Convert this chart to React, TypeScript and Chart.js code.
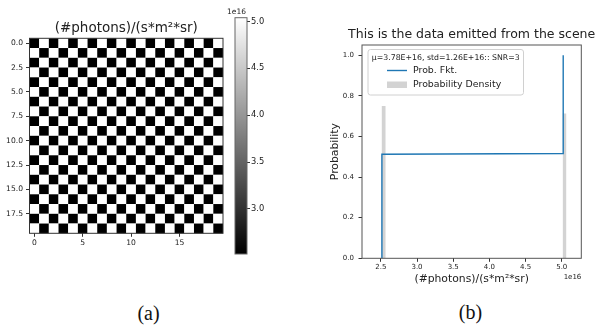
import React, { useEffect, useRef } from "react";
import { Chart, registerables } from "chart.js";

Chart.register(...registerables);

const FONT = "'DejaVu Sans', sans-serif";

// Radiance levels of the scene, in units of 1e16 (#photons)/(s*m²*sr)
const DARK_LEVEL = 2.52;
const BRIGHT_LEVEL = 5.04;

// Scene pixels: '0' = dark pixel, '1' = bright pixel (20 x 20)
const SCENE_ROWS = [
  "01010101010101010101",
  "10101010101010101010",
  "01010101010101010101",
  "10101010101010101010",
  "01010101010101010101",
  "10101010101010101010",
  "01010101010101010101",
  "10101010101010101010",
  "01010101010101010101",
  "10101010101010101010",
  "01010101010101010101",
  "10101010101010101010",
  "01010101010101010101",
  "10101010101010101010",
  "01010101010101010101",
  "10101010101010101010",
  "01010101010101010101",
  "10101010101010101010",
  "01010101010101010101",
  "10101010101010101010",
];

const IMG_X_TICKS = [0, 5, 10, 15];
const IMG_Y_TICKS = [0, 2.5, 5, 7.5, 10, 12.5, 15, 17.5];
const CBAR_TICKS = [3.0, 3.5, 4.0, 4.5, 5.0];

// Histogram of the emitted data (bin edges in 1e16 units, density)
const HIST_BIN_START = [2.51, 5.015];
const HIST_BIN_END = [2.565, 5.065];
const HIST_DENSITY = [0.75, 0.713];

// Probability function (step curve)
const PROB_X = [2.515, 2.515, 5.02, 5.02];
const PROB_Y = [0, 0.512, 0.516, 1.0];

const DIST_X_TICKS = [2.5, 3.0, 3.5, 4.0, 4.5, 5.0];
const DIST_Y_TICKS = [0, 0.2, 0.4, 0.6, 0.8, 1.0];

const UNIT_LABEL = "(#photons)/(s*m²*sr)";
const DIST_TITLE = "This is the data emitted from the scene";

const grayFor = (v: number) => {
  const t = Math.max(0, Math.min(1, (v - DARK_LEVEL) / (BRIGHT_LEVEL - DARK_LEVEL)));
  const c = Math.round(255 * t);
  return `rgb(${c},${c},${c})`;
};

// statistics shown in the legend title
const scenePixels = SCENE_ROWS.flatMap((row) =>
  row.split("").map((ch) => (ch === "1" ? BRIGHT_LEVEL : DARK_LEVEL) * 1e16)
);
const mean = scenePixels.reduce((a, b) => a + b, 0) / scenePixels.length;
const std = Math.sqrt(
  scenePixels.reduce((a, b) => a + (b - mean) ** 2, 0) / scenePixels.length
);
const fmtE = (v: number) => {
  const [m, e] = v.toExponential(2).split("e");
  return `${m}E${e.startsWith("-") ? e : "+" + e.replace("+", "")}`;
};
const LEGEND_TITLE = `μ=${fmtE(mean)}, std=${fmtE(std)}:: SNR=${Math.round(mean / std)}`;

const TICK_COLOR = "#222";
const FRAME_COLOR = "#333";

const fixedTicks = (values: number[]) => (scale: any) => {
  scale.ticks = values.map((value) => ({ value }));
};

const framePlugin = (color: string) => ({
  id: "frame",
  afterDatasetsDraw(chart: any) {
    const { ctx, chartArea: a } = chart;
    ctx.save();
    ctx.strokeStyle = color;
    ctx.lineWidth = 1;
    ctx.strokeRect(a.left, a.top, a.right - a.left, a.bottom - a.top);
    ctx.restore();
  },
});

type TextItem = {
  text: string;
  x: (a: any) => number;
  y: (a: any) => number;
  size: number;
  align?: CanvasTextAlign;
  rotate?: boolean;
};

const textPlugin = (items: TextItem[]) => ({
  id: "texts",
  afterDraw(chart: any) {
    const { ctx, chartArea } = chart;
    ctx.save();
    ctx.fillStyle = TICK_COLOR;
    ctx.textBaseline = "middle";
    for (const it of items) {
      ctx.font = `${it.size}px ${FONT}`;
      ctx.textAlign = it.align ?? "center";
      const x = it.x(chartArea);
      const y = it.y(chartArea);
      if (it.rotate) {
        ctx.save();
        ctx.translate(x, y);
        ctx.rotate(-Math.PI / 2);
        ctx.fillText(it.text, 0, 0);
        ctx.restore();
      } else {
        ctx.fillText(it.text, x, y);
      }
    }
    ctx.restore();
  },
});

const heatCellsPlugin = {
  id: "heatCells",
  beforeDatasetsDraw(chart: any) {
    const { ctx, scales } = chart;
    const xs = scales.x;
    const ys = scales.y;
    const cells = chart.data.datasets[0].data as { x: number; y: number; v: number }[];
    ctx.save();
    for (const p of cells) {
      const x0 = xs.getPixelForValue(p.x - 0.5);
      const x1 = xs.getPixelForValue(p.x + 0.5);
      const y0 = ys.getPixelForValue(p.y - 0.5);
      const y1 = ys.getPixelForValue(p.y + 0.5);
      ctx.fillStyle = grayFor(p.v);
      ctx.fillRect(Math.min(x0, x1), Math.min(y0, y1), Math.abs(x1 - x0), Math.abs(y1 - y0));
    }
    ctx.restore();
  },
};

const legendPlugin = {
  id: "distLegend",
  afterDraw(chart: any) {
    const { ctx } = chart;
    const left = 68, top = 49.5, right = 223.5, bottom = 95;
    ctx.save();
    ctx.fillStyle = "rgba(255,255,255,0.8)";
    ctx.strokeStyle = "#d0d0d0";
    ctx.lineWidth = 1;
    ctx.beginPath();
    (ctx as any).roundRect(left, top, right - left, bottom - top, 2.5);
    ctx.fill();
    ctx.stroke();
    ctx.fillStyle = TICK_COLOR;
    ctx.textBaseline = "middle";
    ctx.textAlign = "center";
    ctx.font = `7.8px ${FONT}`;
    ctx.fillText(LEGEND_TITLE, (left + right) / 2, 57.5);
    const sets = chart.data.datasets;
    ctx.textAlign = "left";
    ctx.font = `9.4px ${FONT}`;
    // line entry
    ctx.strokeStyle = sets[0].borderColor;
    ctx.lineWidth = 1.4;
    ctx.beginPath();
    ctx.moveTo(87, 70.5);
    ctx.lineTo(107, 70.5);
    ctx.stroke();
    ctx.fillText(sets[0].label, 113, 71);
    // patch entry
    ctx.fillStyle = sets[1].backgroundColor;
    ctx.fillRect(87, 81.5, 20, 6.5);
    ctx.fillStyle = TICK_COLOR;
    ctx.fillText(sets[1].label, 113, 85);
    ctx.restore();
  },
};

function ChartCanvas({
  left,
  top,
  width,
  height,
  build,
}: {
  left: number;
  top: number;
  width: number;
  height: number;
  build: () => any;
}) {
  const ref = useRef<HTMLCanvasElement>(null);
  useEffect(() => {
    const chart = new Chart(ref.current as HTMLCanvasElement, build());
    return () => chart.destroy();
  }, []);
  return (
    <canvas
      ref={ref}
      width={width}
      height={height}
      style={{ position: "absolute", left, top, width, height }}
    />
  );
}

const axisStyle = (size: number, padding: number, decimals?: number) => ({
  grid: { drawOnChartArea: false, drawTicks: true, tickLength: 3.5, color: FRAME_COLOR },
  border: { display: false },
  ticks: {
    font: { family: FONT, size },
    color: TICK_COLOR,
    padding,
    maxRotation: 0,
    autoSkip: false,
    callback: (v: number) => (decimals === undefined ? String(v) : v.toFixed(decimals)),
  },
});

const buildImage = () => {
  const cells = SCENE_ROWS.flatMap((row, r) =>
    row.split("").map((ch, c) => ({ x: c, y: r, v: ch === "1" ? BRIGHT_LEVEL : DARK_LEVEL }))
  );
  return {
    type: "scatter",
    data: { datasets: [{ data: cells, pointRadius: 0, showLine: false }] },
    options: {
      responsive: false,
      animation: false,
      devicePixelRatio: 1,
      layout: { padding: { top: 38.3, right: 9, left: 0, bottom: 0 } },
      plugins: { legend: { display: false }, tooltip: { enabled: false } },
      scales: {
        x: {
          type: "linear",
          min: -0.5,
          max: 19.5,
          ...axisStyle(7.6, 1.5),
          afterBuildTicks: fixedTicks(IMG_X_TICKS),
          afterFit: (s: any) => { s.height = 262 - 233.3; },
        },
        y: {
          type: "linear",
          reverse: true,
          min: -0.5,
          max: 19.5,
          ...axisStyle(7.6, 3, 1),
          afterBuildTicks: fixedTicks(IMG_Y_TICKS),
          afterFit: (s: any) => { s.width = 29.5; },
        },
      },
    },
    plugins: [
      heatCellsPlugin,
      framePlugin(FRAME_COLOR),
      textPlugin([
        { text: UNIT_LABEL, x: (a) => (a.left + a.right) / 2, y: () => 28.3, size: 13.5 },
      ]),
    ],
  };
};

const buildColorbar = () => ({
  type: "bar",
  data: {
    labels: [""],
    datasets: [
      {
        data: [[DARK_LEVEL, BRIGHT_LEVEL]],
        borderWidth: 0,
        barPercentage: 1,
        categoryPercentage: 1,
        backgroundColor: (c: any) => {
          const chart = c.chart;
          if (!chart.chartArea) return "#888";
          const ys = chart.scales.y;
          const g = chart.ctx.createLinearGradient(
            0, ys.getPixelForValue(DARK_LEVEL), 0, ys.getPixelForValue(BRIGHT_LEVEL)
          );
          g.addColorStop(0, grayFor(DARK_LEVEL));
          g.addColorStop(1, grayFor(BRIGHT_LEVEL));
          return g;
        },
      },
    ],
  },
  options: {
    responsive: false,
    animation: false,
    devicePixelRatio: 1,
    layout: { padding: { top: 17.7, right: 0, left: 10, bottom: 8 } },
    plugins: { legend: { display: false }, tooltip: { enabled: false } },
    scales: {
      x: { display: false },
      y: {
        position: "right",
        min: DARK_LEVEL,
        max: BRIGHT_LEVEL,
        ...axisStyle(8.3, 1, 1),
        grid: { drawOnChartArea: false, drawTicks: true, tickLength: 3, color: FRAME_COLOR },
        afterBuildTicks: fixedTicks(CBAR_TICKS),
        afterFit: (s: any) => { s.width = 20; },
      },
    },
  },
  plugins: [
    framePlugin("#666"),
    textPlugin([
      { text: "1e16", x: (a) => a.right - 1, y: () => 11.7, size: 7.5, align: "right" },
    ]),
  ],
});

const buildDistribution = () => {
  const histPoints: { x: number; y: number }[] = [];
  HIST_DENSITY.forEach((d, i) => {
    histPoints.push({ x: HIST_BIN_START[i], y: 0 }, { x: HIST_BIN_START[i], y: d });
    histPoints.push({ x: HIST_BIN_END[i], y: d }, { x: HIST_BIN_END[i], y: 0 });
  });
  return {
    type: "line",
    data: {
      datasets: [
        {
          label: "Prob. Fkt.",
          data: PROB_X.map((x, i) => ({ x, y: PROB_Y[i] })),
          borderColor: "#1f77b4",
          borderWidth: 1.4,
          pointRadius: 0,
          fill: false,
          tension: 0,
          order: 0,
        },
        {
          label: "Probability Density",
          data: histPoints,
          borderWidth: 0,
          backgroundColor: "#d3d3d3",
          fill: "origin",
          pointRadius: 0,
          tension: 0,
          order: 1,
        },
      ],
    },
    options: {
      responsive: false,
      animation: false,
      devicePixelRatio: 1,
      layout: { padding: { top: 45, right: 15.7, left: 0, bottom: 0 } },
      plugins: { legend: { display: false }, tooltip: { enabled: false } },
      scales: {
        x: {
          type: "linear",
          min: 2.24,
          max: 5.27,
          ...axisStyle(7, 1.5, 1),
          afterBuildTicks: fixedTicks(DIST_X_TICKS),
          afterFit: (s: any) => { s.height = 300 - 258.3; },
        },
        y: {
          type: "linear",
          min: 0,
          max: 1.05,
          ...axisStyle(7, 4.5, 1),
          afterBuildTicks: fixedTicks(DIST_Y_TICKS),
          afterFit: (s: any) => { s.width = 62; },
        },
      },
    },
    plugins: [
      framePlugin("#555"),
      legendPlugin,
      textPlugin([
        { text: DIST_TITLE, x: (a) => (a.left + a.right) / 2, y: () => 35, size: 12.5 },
        { text: "Probability", x: () => 35, y: (a) => (a.top + a.bottom) / 2, size: 10.8, rotate: true },
        { text: UNIT_LABEL, x: (a) => (a.left + a.right) / 2, y: () => 279, size: 10.8 },
        { text: "1e16", x: (a) => a.right, y: () => 277, size: 7, align: "right" },
      ]),
    ],
  };
};

const captionStyle = (cx: number, cy: number): React.CSSProperties => ({
  position: "absolute",
  left: cx,
  top: cy,
  transform: "translate(-50%, -50%)",
  fontFamily: "'Liberation Serif', 'Times New Roman', serif",
  fontSize: 20,
  lineHeight: 1,
  color: "#111",
  whiteSpace: "nowrap",
});

export default function App() {
  return (
    <div
      style={{
        position: "fixed",
        left: 0,
        top: 0,
        width: 597,
        height: 327,
        background: "#fff",
        overflow: "hidden",
      }}
    >
      <ChartCanvas left={0} top={0} width={232} height={262} build={buildImage} />
      <ChartCanvas left={225} top={0} width={42} height={262} build={buildColorbar} />
      <ChartCanvas left={300} top={0} width={297} height={300} build={buildDistribution} />
      <div style={captionStyle(148.5, 313)}>(a)</div>
      <div style={captionStyle(470.5, 312)}>(b)</div>
    </div>
  );
}
